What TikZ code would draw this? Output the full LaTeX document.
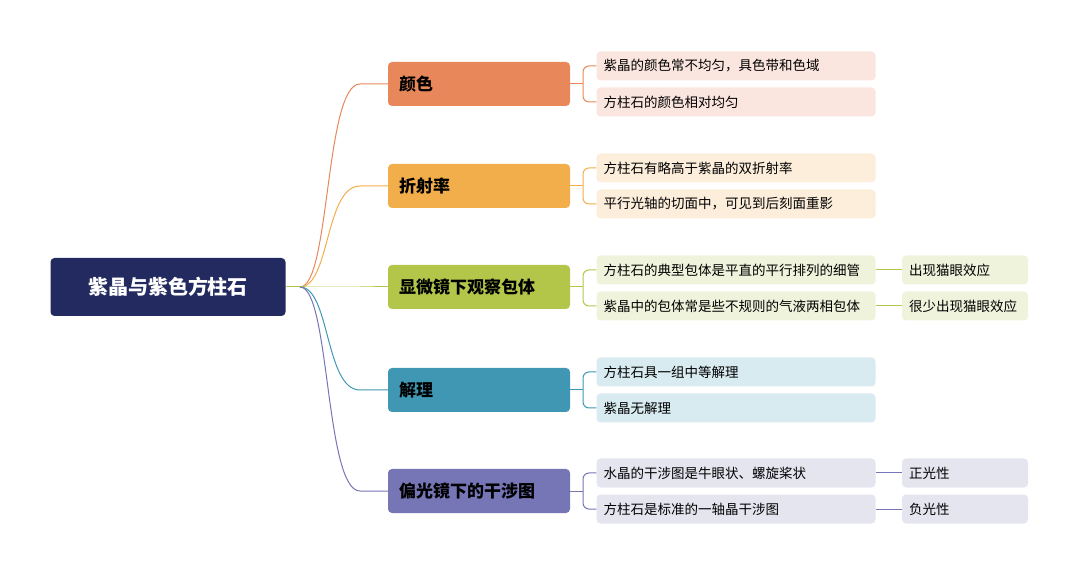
\documentclass[tikz,border=0pt]{standalone}
\usepackage{fontspec}
\setmainfont{Noto Sans CJK SC}
\usetikzlibrary{positioning}
\definecolor{rootc}{HTML}{232A5F}
\definecolor{c1}{HTML}{E8875A}\definecolor{l1}{HTML}{FBE6DF}
\definecolor{c2}{HTML}{F2AE4B}\definecolor{l2}{HTML}{FCEEDB}
\definecolor{c3}{HTML}{B3C64A}\definecolor{l3}{HTML}{F0F3DC}
\definecolor{c4}{HTML}{3F97B3}\definecolor{l4}{HTML}{D8EBF0}
\definecolor{c5}{HTML}{7675B6}\definecolor{l5}{HTML}{E5E5F0}
\tikzset{
  root/.style={fill=rootc, text=white, rounded corners=4pt, minimum width=235pt, minimum height=58pt, font=\fontsize{20}{23}\selectfont\bfseries},
  topic/.style={fill=#1, rounded corners=4pt, minimum width=182pt, minimum height=44pt, text width=160pt, font=\fontsize{17}{20}\selectfont\bfseries},
  leaf/.style={fill=#1, rounded corners=4pt, minimum width=279pt, minimum height=29pt, text width=265pt, font=\fontsize{13.5}{16}\selectfont},
  tip/.style={fill=#1, rounded corners=4pt, minimum width=126pt, minimum height=29pt, text width=112pt, font=\fontsize{13.5}{16}\selectfont},
  link/.style={draw=#1, line width=1pt, rounded corners=6pt}
}
\begin{document}
\begin{tikzpicture}[x=1pt, y=-1pt]
\useasboundingbox (0,0) rectangle (1080,577);

  % root
  \node[root] (gem) at (168,287) {紫晶与紫色方柱石};
  \coordinate (hub) at (300,287);
  \draw[link=c3] (gem.east) -- (hub);

  % topics
  \node[topic=c1] (color)  at (479,84)  {颜色};
  \node[topic=c2] (refr)   at (479,186) {折射率};
  \node[topic=c3] (micro)  at (479,287) {显微镜下观察包体};
  \node[topic=c4] (cleav)  at (479,390) {解理};
  \node[topic=c5] (polar)  at (479,491) {偏光镜下的干涉图};

  \foreach \t/\c in {color/c1, refr/c2, micro/c3, cleav/c4, polar/c5}
    \draw[draw=\c, line width=1pt] (hub) .. controls (330,287) and (325,0|-\t.west) .. (\t.west -| 360,0) -- (\t.west);

  % leaves
  \node[leaf=l1] (color-a) at (736,66)  {紫晶的颜色常不均匀，具色带和色域};
  \node[leaf=l1] (color-b) at (736,102) {方柱石的颜色相对均匀};
  \node[leaf=l2] (refr-a)  at (736,168) {方柱石有略高于紫晶的双折射率};
  \node[leaf=l2] (refr-b)  at (736,204) {平行光轴的切面中，可见到后刻面重影};
  \node[leaf=l3] (micro-a) at (736,270) {方柱石的典型包体是平直的平行排列的细管};
  \node[leaf=l3] (micro-b) at (736,306) {紫晶中的包体常是些不规则的气液两相包体};
  \node[leaf=l4] (cleav-a) at (736,372) {方柱石具一组中等解理};
  \node[leaf=l4] (cleav-b) at (736,408) {紫晶无解理};
  \node[leaf=l5] (polar-a) at (736,473) {水晶的干涉图是牛眼状、螺旋桨状};
  \node[leaf=l5] (polar-b) at (736,509) {方柱石是标准的一轴晶干涉图};

  \foreach \t/\c in {color/c1, refr/c2, micro/c3, cleav/c4, polar/c5} {
    \draw[draw=\c, line width=1pt] (\t.east) -- (\t.east -| 583,0);
    \draw[link=\c] (\t-a.west) -| (583,0 |- \t.east) |- (\t-b.west);
  }

  % tips
  \node[tip=l3] (micro-a-x) at (965,270) {出现猫眼效应};
  \node[tip=l3] (micro-b-x) at (965,306) {很少出现猫眼效应};
  \node[tip=l5] (polar-a-x) at (965,473) {正光性};
  \node[tip=l5] (polar-b-x) at (965,509) {负光性};
  \draw[draw=c3, line width=1pt] (micro-a) -- (micro-a-x);
  \draw[draw=c3, line width=1pt] (micro-b) -- (micro-b-x);
  \draw[draw=c5, line width=1pt] (polar-a) -- (polar-a-x);
  \draw[draw=c5, line width=1pt] (polar-b) -- (polar-b-x);

\end{tikzpicture}
\end{document}
